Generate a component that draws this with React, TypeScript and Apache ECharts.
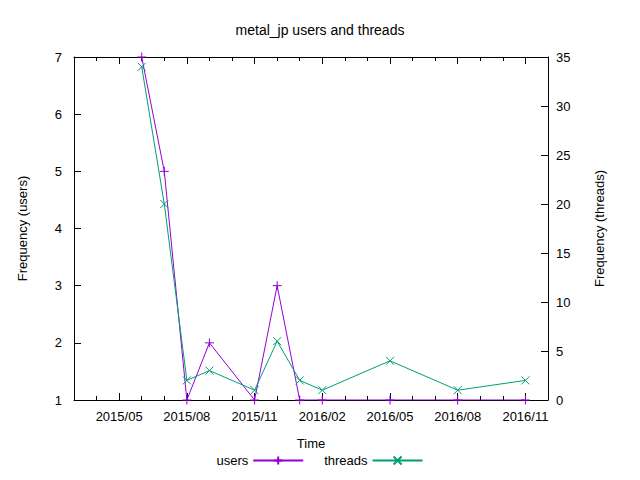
import React, { useEffect, useRef } from "react";
import * as echarts from "echarts";

// x = months since 2015-05
const months = [1, 2, 3, 4, 6, 7, 8, 9, 12, 15, 18];
const users = [7, 5, 1, 2, 1, 3, 1, 1, 1, 1, 1];
const threads = [34, 20, 2, 3, 1, 6, 2, 1, 4, 1, 2];
const tickMonths = [0, 3, 6, 9, 12, 15, 18];
const tickLabels = ["2015/05", "2015/08", "2015/11", "2016/02", "2016/05", "2016/08", "2016/11"];
const monthTicks = Array.from({ length: 22 }, (_, i) => i - 2);

const PLUS = "path://M0,5L10,5M5,0L5,10";
const CROSS = "path://M0,0L10,10M10,0L0,10";

export default function App() {
  const ref = useRef<HTMLDivElement>(null);
  useEffect(() => {
    const chart = echarts.init(ref.current!, undefined, { renderer: "svg" });
    const font = "Liberation Sans, Arial, sans-serif";
    const base = { min: -2, max: 19 };
    chart.setOption({
      animation: false,
      textStyle: { fontFamily: font },
      title: { text: "metal_jp users and threads", left: "center", top: 10, textStyle: { fontSize: 14, fontWeight: "normal", color: "#000", fontFamily: font } },
      grid: { left: 56, right: 84, top: 49, bottom: 72 },
      legend: {
        bottom: 0, left: "center", itemWidth: 50, itemHeight: 10, align: "right", itemGap: 20,
        textStyle: { fontSize: 13, color: "#000" },
        data: ["users", "threads"],
      },
      xAxis: [
        {
          type: "value", ...base, position: "bottom", name: "Time", nameLocation: "middle", nameGap: 37,
          nameTextStyle: { fontSize: 13, color: "#000" },
          axisLine: { onZero: false, lineStyle: { color: "#000" } }, splitLine: { show: false },
          axisTick: { inside: true, length: 7, customValues: tickMonths, lineStyle: { color: "#000" } },
          axisLabel: { customValues: tickMonths, formatter: (v: number) => tickLabels[tickMonths.indexOf(v)] ?? "", fontSize: 13, color: "#000", margin: 10 },
        },
        {
          type: "value", ...base, position: "bottom",
          axisLine: { show: false, onZero: false }, splitLine: { show: false }, axisLabel: { show: false },
          axisTick: { inside: true, length: 4, customValues: monthTicks, lineStyle: { color: "#000" } },
        },
        {
          type: "value", ...base, position: "top",
          axisLine: { onZero: false, lineStyle: { color: "#000" } }, splitLine: { show: false }, axisLabel: { show: false },
          axisTick: { inside: true, length: 7, customValues: tickMonths, lineStyle: { color: "#000" } },
        },
        {
          type: "value", ...base, position: "top",
          axisLine: { show: false, onZero: false }, splitLine: { show: false }, axisLabel: { show: false },
          axisTick: { inside: true, length: 4, customValues: monthTicks, lineStyle: { color: "#000" } },
        },
      ],
      yAxis: [
        {
          type: "value", min: 1, max: 7, interval: 1, position: "left", name: "Frequency (users)", nameLocation: "middle", nameGap: 45,
          nameTextStyle: { fontSize: 13, color: "#000" },
          axisLine: { show: true, onZero: false, lineStyle: { color: "#000" } }, splitLine: { show: false },
          axisTick: { inside: true, length: 7, lineStyle: { color: "#000" } },
          axisLabel: { fontSize: 13, color: "#000", margin: 12 },
        },
        {
          type: "value", min: 0, max: 35, interval: 5, position: "right", name: "Frequency (threads)", nameLocation: "middle", nameGap: 45,
          nameTextStyle: { fontSize: 13, color: "#000" },
          axisLine: { show: true, onZero: false, lineStyle: { color: "#000" } }, splitLine: { show: false },
          axisTick: { inside: true, length: 7, lineStyle: { color: "#000" } },
          axisLabel: { fontSize: 13, color: "#000", margin: 8 },
        },
      ],
      series: [
        {
          name: "users", type: "line", xAxisIndex: 0, yAxisIndex: 0,
          data: months.map((m, i) => [m, users[i]]),
          symbol: PLUS, symbolSize: 9, showSymbol: true,
          lineStyle: { color: "#9400d3", width: 1 },
          itemStyle: { color: "#9400d3", borderColor: "#9400d3", borderWidth: 1 },
        },
        {
          name: "threads", type: "line", xAxisIndex: 0, yAxisIndex: 1,
          data: months.map((m, i) => [m, threads[i]]),
          symbol: CROSS, symbolSize: 8, showSymbol: true,
          lineStyle: { color: "#009e73", width: 1 },
          itemStyle: { color: "#009e73", borderColor: "#009e73", borderWidth: 1 },
        },
      ],
    });
    return () => chart.dispose();
  }, []);
  return <div ref={ref} style={{ width: 624, height: 464 }} />;
}
